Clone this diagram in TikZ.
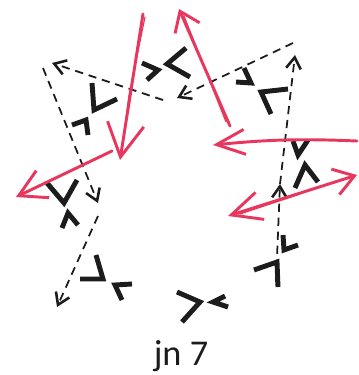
\documentclass[tikz,border=0pt]{standalone}
\usepackage{fontspec}
\setsansfont{Carlito}
\usetikzlibrary{arrows.meta}
\definecolor{jnInk}{HTML}{1C1C1C}
\definecolor{jnRed}{HTML}{E8365D}
\tikzset{
  every picture/.style={font=\sffamily, text=jnInk},
  jn corner/.style={draw=jnInk, line width=4.2pt, line join=miter, line cap=butt},
  jn dash/.style={draw=jnInk, line width=1.5pt, dash pattern=on 7pt off 5pt,
    -{Straight Barb[length=3.4mm,width=4.4mm,line width=2.2pt]}},
  jn red/.style={draw=jnRed, line width=2.5pt, line cap=round, line join=round},
  jn sketch/.style={draw=jnRed, line width=1pt, line cap=round},
  jn barb/.style 2 args={-{Straight Barb[length=#1,width=#2]}},
  jn label/.style={font=\sffamily\fontsize{31}{36}\selectfont}
}

\begin{document}
\begin{tikzpicture}[x=0.03cm,y=-0.03cm]
  \useasboundingbox (0,0) rectangle (358,375);
  % junction corners, big and small
  \draw[jn corner] (186,48) -- (167,64) -- (190,77);
  \draw[jn corner] (142,63) -- (158,70) -- (147,80);
  \draw[jn corner] (92,83) -- (94,110) -- (117,99);
  \draw[jn corner] (72,125) -- (86,120) -- (88,135);
  \draw[jn corner] (288,89) -- (261,92) -- (271,114);
  \draw[jn corner] (244,68) -- (251,83) -- (236,82);
  \draw[jn corner] (293,141) -- (298,155) -- (308,140);
  \draw[jn corner] (295,188) -- (305,165) -- (318,182);
  \draw[jn corner] (283,235) -- (284,250) -- (298,245);
  \draw[jn corner] (254,270) -- (277,262) -- (278,287);
  \draw[jn corner] (177,292) -- (200,302) -- (182,322);
  \draw[jn corner] (225,296) -- (213,302) -- (228,307);
  \draw[jn corner] (96,255) -- (103,279) -- (80,279);
  \draw[jn corner] (132,284) -- (115,285) -- (122,300);
  \draw[jn corner] (47,183) -- (64,203) -- (77,180);
  \draw[jn corner] (62,228) -- (68,213) -- (78,225);
  % dashed paths
  \coordinate (dA) at (163,100);
  \coordinate (dB) at (52,63);
  \coordinate (dC) at (43,68);
  \coordinate (dD) at (98,203);
  \coordinate (dE) at (98,216);
  \coordinate (dF) at (57,307);
  \coordinate (dG) at (293,43);
  \coordinate (dH) at (177,98);
  \coordinate (dI) at (276,282);
  \coordinate (dJ) at (280,184);
  \coordinate (dK) at (295,55);
  \draw[jn dash] (dA) -- (dB);
  \draw[jn dash] (dC) -- (dD);
  \draw[jn dash] (dE) -- (dF);
  \draw[jn dash] (dG) -- (dH);
  \draw[jn dash] (dI) -- (dJ);
  \draw[jn dash] (dJ) -- (dK);
  % red arrows
  \coordinate (rA) at (143,14);
  \coordinate (rB) at (120,160);
  \coordinate (rC) at (112,151);
  \coordinate (rD) at (16,197);
  \coordinate (rE) at (230,126);
  \coordinate (rF) at (179,9);
  \coordinate (rG) at (357,141);
  \coordinate (rH) at (213,145);
  \coordinate (rI) at (228,216);
  \coordinate (rJ) at (357,175);
  \draw[jn red, jn barb={10mm}{11mm}] (rA) -- (rB);
  \draw[jn sketch] (145,17) -- (129,95) -- (122,150);
  \draw[jn red, jn barb={8mm}{9mm}] (rC) -- (rD);
  \draw[jn red, jn barb={5.5mm}{8mm}] (rE) -- (rF);
  \draw[jn sketch] (226,122) -- (184,16);
  \draw[jn red, jn barb={8.5mm}{7.5mm}] (rG) to[bend right=4] (rH);
  \draw[jn red, {Straight Barb[length=9mm,width=8.5mm]}-{Straight Barb[length=6mm,width=8mm]}] (rI) -- (rJ);
  \draw[jn sketch] (240,214) -- (300,194);
  % caption
  \node[jn label, anchor=base] (cap) at (181,365) {jn 7};
\end{tikzpicture}
\end{document}
